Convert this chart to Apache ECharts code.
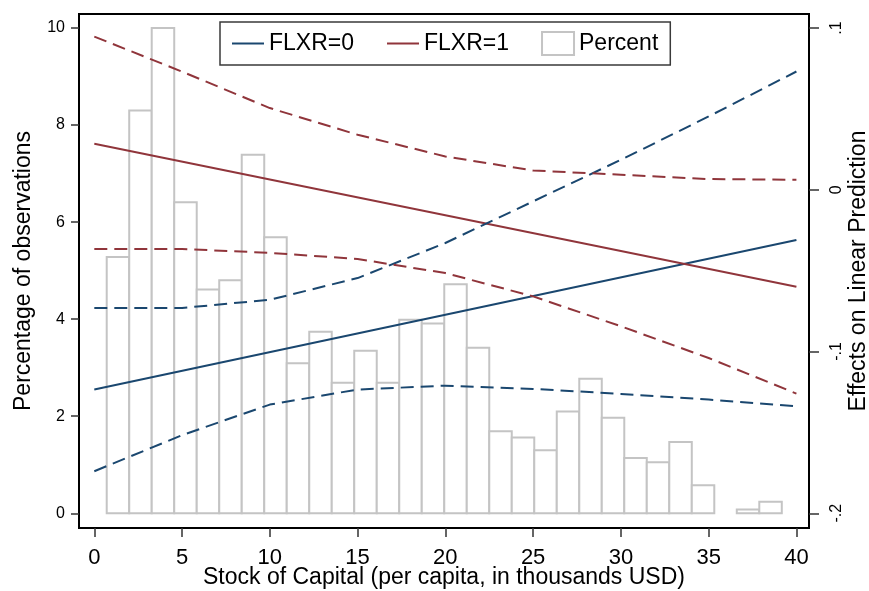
<!DOCTYPE html>
<html><head><meta charset="utf-8">
<script src="https://cdn.jsdelivr.net/npm/echarts@6/dist/echarts.min.js"></script>
<style>html,body{margin:0;padding:0;background:#fff}#c{width:869px;height:591px}</style>
</head><body><div id="c"></div>
<script>
// Histogram (left axis: percentage of observations)
const binStart = 0.707;
const binWidth = 1.282;
const percent = [5.28, 8.30, 10.0, 6.41, 4.61, 4.80, 7.39, 5.69, 3.09, 3.74,
                 2.69, 3.35, 2.69, 3.99, 3.91, 4.72, 3.41, 1.69, 1.56, 1.30,
                 2.10, 2.77, 1.97, 1.14, 1.05, 1.47, 0.58, 0, 0.08, 0.24];
// Margins (right axis: effects on linear prediction)
const capital = [0, 5, 10, 15, 20, 25, 30, 35, 40];
const lineEnds = [0, 40];
const flxr0 = [-0.1235, -0.031];
const flxr1 = [0.0285, -0.060];
const flxr0Upper = [-0.0731, -0.0731, -0.068, -0.0546, -0.0329, -0.0072, 0.0185, 0.0453, 0.0731];
const flxr0Lower = [-0.174, -0.1517, -0.1328, -0.1235, -0.1211, -0.1231, -0.1262, -0.1297, -0.1339];
const flxr1Upper = [0.0947, 0.073, 0.0505, 0.034, 0.0206, 0.0119, 0.0093, 0.0066, 0.0062];
const flxr1Lower = [-0.0366, -0.0366, -0.039, -0.0428, -0.0515, -0.0659, -0.0844, -0.104, -0.126];
// Tick labels
const xTicks = [0, 5, 10, 15, 20, 25, 30, 35, 40];
const leftTicks = [0, 2, 4, 6, 8, 10];
const rightTicks = [-0.2, -0.1, 0, 0.1];

const BLUE = '#1a476f', RED = '#90353b', GRAY = '#c4c4c4';
const FONT = '"Liberation Sans", Arial, sans-serif';
const pairs = (xs, ys) => xs.map((x, i) => [x, ys[i]]);
const fmtRight = v => v === 0 ? '0' : (v < 0 ? '-' : '') + String(Math.abs(v)).replace(/^0/, '');

function lineSeries(name, xs, ys, color, dashed) {
  return {
    name, type: 'line', xAxisIndex: 0, yAxisIndex: 1,
    data: pairs(xs, ys), symbol: 'none', showSymbol: false, silent: true, z: 3,
    lineStyle: { color, width: 2, type: dashed ? [13, 7] : 'solid' },
    itemStyle: { color }
  };
}

const chart = echarts.init(document.getElementById('c'), null, { renderer: 'canvas' });
chart.setOption({
  animation: false,
  backgroundColor: '#fff',
  textStyle: { fontFamily: FONT, color: '#000' },
  grid: { left: 79, right: 60, top: 14, bottom: 63, containLabel: false, outerBoundsMode: 'none',
          show: true, borderColor: '#000', borderWidth: 2, backgroundColor: 'transparent' },
  legend: {
    left: 220, top: 22,
    padding: [9, 12, 9, 11],
    itemWidth: 32, itemHeight: 23, itemGap: 32,
    borderColor: '#3a3a3a', borderWidth: 1.5, backgroundColor: '#fff',
    textStyle: { fontSize: 23, color: '#000', fontFamily: FONT },
    selectedMode: false,
    data: [
      { name: 'FLXR=0', itemStyle: { opacity: 0 } },
      { name: 'FLXR=1', itemStyle: { opacity: 0 } },
      { name: 'Percent', icon: 'rect', itemStyle: { color: '#fff', borderColor: GRAY, borderWidth: 2 } }
    ]
  },
  xAxis: {
    type: 'value', min: -0.872, max: 40.717,
    name: 'Stock of Capital (per capita, in thousands USD)', nameLocation: 'middle', nameGap: 38,
    nameMoveOverlap: false,
    nameTextStyle: { fontSize: 23, color: '#000', fontFamily: FONT },
    axisLine: { show: true, onZero: false, lineStyle: { color: '#000', width: 2 } },
    axisTick: { show: true, length: 9, customValues: xTicks, lineStyle: { color: '#333', width: 1.5 } },
    axisLabel: { customValues: xTicks, fontSize: 22, margin: 19, color: '#000', fontFamily: FONT },
    splitLine: { show: false }
  },
  yAxis: [
    {
      type: 'value', min: -0.303, max: 10.288, position: 'left',
      name: 'Percentage of observations', nameLocation: 'middle', nameGap: 44, nameRotate: 90,
      nameMoveOverlap: false,
      nameTextStyle: { fontSize: 23, color: '#000', fontFamily: FONT },
      axisLine: { show: true, onZero: false, lineStyle: { color: '#000', width: 2 } },
      axisTick: { show: true, length: 8, customValues: leftTicks, lineStyle: { color: '#333', width: 1.5 } },
      axisLabel: { customValues: leftTicks, fontSize: 16, margin: 14, color: '#000', fontFamily: FONT },
      splitLine: { show: false }
    },
    {
      type: 'value', min: -0.2091, max: 0.10865, position: 'right',
      name: 'Effects on Linear Prediction', nameLocation: 'middle', nameGap: 38, nameRotate: 90,
      nameMoveOverlap: false,
      nameTextStyle: { fontSize: 23, color: '#000', fontFamily: FONT },
      axisLine: { show: true, onZero: false, lineStyle: { color: '#000', width: 2 } },
      axisTick: { show: true, length: 10, customValues: rightTicks, lineStyle: { color: '#333', width: 1.5 } },
      axisLabel: { customValues: rightTicks, fontSize: 16, margin: 20, rotate: 90, color: '#000', fontFamily: FONT, formatter: fmtRight },
      splitLine: { show: false }
    }
  ],
  series: [
    {
      name: 'Percent', type: 'custom', xAxisIndex: 0, yAxisIndex: 0, z: 1, silent: true,
      itemStyle: { color: '#fff', borderColor: GRAY, borderWidth: 2 },
      data: percent.map((v, i) => [binStart + i * binWidth, binStart + (i + 1) * binWidth, v]),
      encode: { x: [0, 1], y: 2 },
      renderItem: function (params, api) {
        const h = api.value(2);
        if (!h) return null;
        const p0 = api.coord([api.value(0), h]);
        const p1 = api.coord([api.value(1), 0]);
        return {
          type: 'rect',
          shape: { x: p0[0], y: p0[1], width: p1[0] - p0[0], height: p1[1] - p0[1] },
          style: { fill: '#fff', stroke: GRAY, lineWidth: 2 }
        };
      }
    },
    lineSeries('FLXR=0', lineEnds, flxr0, BLUE, false),
    lineSeries('FLXR=1', lineEnds, flxr1, RED, false),
    lineSeries('FLXR=0 upper', capital, flxr0Upper, BLUE, true),
    lineSeries('FLXR=0 lower', capital, flxr0Lower, BLUE, true),
    lineSeries('FLXR=1 upper', capital, flxr1Upper, RED, true),
    lineSeries('FLXR=1 lower', capital, flxr1Lower, RED, true)
  ]
});
</script>
</body></html>
